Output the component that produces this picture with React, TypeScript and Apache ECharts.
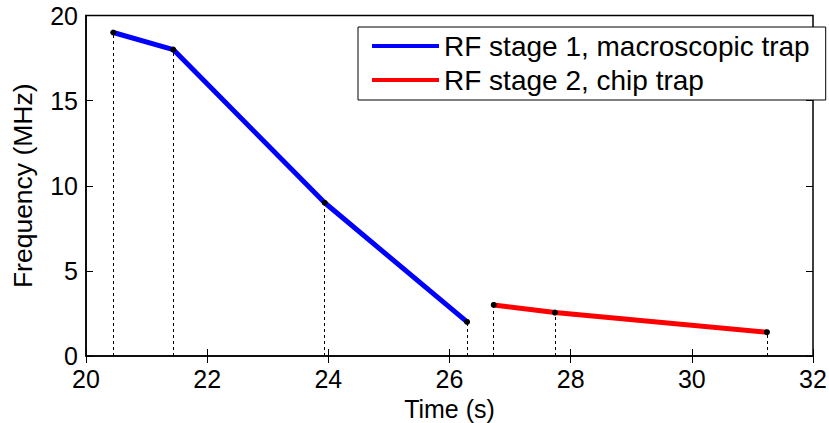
import React, { useEffect, useRef } from "react";
import * as echarts from "echarts";

const blueX = [20.45, 21.44, 23.94, 26.29];
const blueY = [19, 18, 9, 2];
const redX = [26.73, 27.74, 31.24];
const redY = [3, 2.55, 1.4];
const blueName = "RF stage 1, macroscopic trap";
const redName = "RF stage 2, chip trap";
const blueColor = "#0000ff";
const redColor = "#ff0000";
const xTicks = [20, 22, 24, 26, 28, 30, 32];
const yTicks = [0, 5, 10, 15, 20];

const FONT = "Liberation Sans, Arial, Helvetica, sans-serif";
const FS = 26.5;
const XFS = 25;
const TFS = 25;
const LFS = 28;

function pairs(xs: number[], ys: number[]) {
  return xs.map((x, i) => [x, ys[i]]);
}

function drops(xs: number[], ys: number[]) {
  return xs.map((x, i) => [{ coord: [x, 0] }, { coord: [x, ys[i]] }]);
}

export default function App() {
  const ref = useRef<HTMLDivElement>(null);
  useEffect(() => {
    if (!ref.current) return;
    const chart = echarts.init(ref.current, null, { renderer: "svg" });
    const dropLine = {
      silent: true,
      symbol: "none",
      label: { show: false },
      emphasis: { disabled: true },
      lineStyle: { color: "#000", width: 1, type: [3, 3] },
    };
    const tick = { show: true, inside: true, length: 7, lineStyle: { color: "#000", width: 1 } };
    chart.setOption({
      animation: false,
      backgroundColor: "#fff",
      textStyle: { fontFamily: FONT },
      grid: {
        left: 86,
        right: 16,
        top: 15.5,
        bottom: 67,
        outerBoundsMode: "none",
        containLabel: false,
        show: true,
        borderColor: "#000",
        borderWidth: 1.5,
        backgroundColor: "transparent",
      },
      legend: {
        orient: "vertical",
        left: 358,
        top: 27,
        padding: [5, 16, 6, 14],
        borderColor: "#000",
        borderWidth: 1,
        backgroundColor: "#fff",
        itemWidth: 67,
        itemHeight: 4,
        itemGap: 6,
        icon: "rect",
        textStyle: { fontFamily: FONT, fontSize: LFS, lineHeight: 28, color: "#000" },
        data: [
          { name: blueName, itemStyle: { color: blueColor } },
          { name: redName, itemStyle: { color: redColor } },
        ],
      },
      xAxis: [
        {
          type: "value",
          min: xTicks[0],
          max: xTicks[xTicks.length - 1],
          interval: 2,
          name: "Time (s)",
          nameLocation: "middle",
          nameGap: 38,
          nameTextStyle: { fontFamily: FONT, fontSize: XFS, lineHeight: 24, color: "#000" },
          axisLine: { show: true, lineStyle: { color: "#000", width: 1.5 } },
          axisTick: tick,
          axisLabel: { fontFamily: FONT, fontSize: TFS, lineHeight: 20, color: "#000", margin: 13 },
          splitLine: { show: false },
        },
        {
          type: "value",
          position: "top",
          min: xTicks[0],
          max: xTicks[xTicks.length - 1],
          interval: 2,
          axisLine: { show: false },
          axisTick: tick,
          axisLabel: { show: false },
          splitLine: { show: false },
        },
      ],
      yAxis: [
        {
          type: "value",
          min: yTicks[0],
          max: yTicks[yTicks.length - 1],
          interval: 5,
          name: "Frequency (MHz)",
          nameLocation: "middle",
          nameGap: 50,
          nameTextStyle: { fontFamily: FONT, fontSize: FS, color: "#000" },
          axisLine: { show: true, lineStyle: { color: "#000", width: 1.5 } },
          axisTick: tick,
          axisLabel: { fontFamily: FONT, fontSize: TFS, lineHeight: 20, color: "#000", margin: 8 },
          splitLine: { show: false },
        },
        {
          type: "value",
          position: "right",
          min: yTicks[0],
          max: yTicks[yTicks.length - 1],
          interval: 5,
          axisLine: { show: false },
          axisTick: tick,
          axisLabel: { show: false },
          splitLine: { show: false },
        },
      ],
      series: [
        {
          name: blueName,
          type: "line",
          data: pairs(blueX, blueY),
          lineStyle: { color: blueColor, width: 5 },
          symbol: "circle",
          symbolSize: 6,
          itemStyle: { color: "#000" },
          z: 3,
          markLine: { ...dropLine, data: drops(blueX, blueY) },
        },
        {
          name: redName,
          type: "line",
          data: pairs(redX, redY),
          lineStyle: { color: redColor, width: 5 },
          symbol: "circle",
          symbolSize: 6,
          itemStyle: { color: "#000" },
          z: 3,
          markLine: { ...dropLine, data: drops(redX, redY) },
        },
      ],
    });
    return () => chart.dispose();
  }, []);
  return (
    <div
      ref={ref}
      style={{ position: "fixed", left: 0, top: 0, width: 829, height: 423 }}
    />
  );
}
